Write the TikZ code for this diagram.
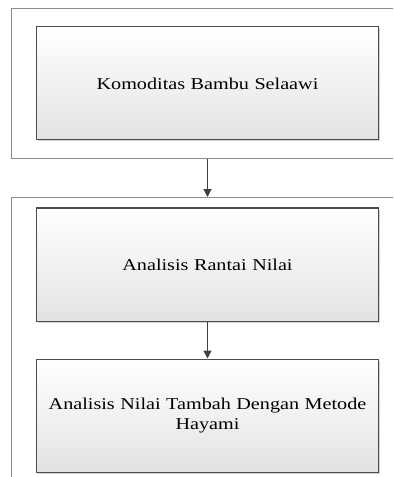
\documentclass[tikz,border=0pt]{standalone}
\usepackage{fontspec}
\setmainfont{Liberation Serif}
\newfontfamily\boxfont[FakeStretch=1.22]{Liberation Serif}
\usetikzlibrary{positioning,shadows,arrows.meta}

\begin{document}
\begin{tikzpicture}[x=1bp,y=1bp,>={Triangle[length=8bp,width=8bp]},
                    node distance=37bp,semithick]
  \tikzstyle{frame}=[rectangle,draw=black!45,line width=1.3bp,anchor=north west,
                     inner sep=0pt,minimum width=400bp]
  \tikzstyle{stage}=[rectangle,draw=black!70,line width=1bp,top color=white,
                     bottom color=black!11,minimum width=342bp,minimum height=113bp,
                     inner xsep=1bp,text width=338bp,align=center,
                     font=\boxfont\fontsize{16.6}{20.5}\selectfont,
                     drop shadow={shadow xshift=1.5bp,shadow yshift=-1.5bp,opacity=0.35}]
  \tikzstyle{link}=[->,draw=black!75,line width=1.3bp]

  \useasboundingbox (0,0) rectangle (393,-477);
  \clip (0,0) rectangle (393,-477);

  % frames
  \node[frame,minimum height=150bp] (komFrame) at (11,-8) {};
  \node[frame,minimum height=300bp] (nilaiFrame) at (11,-197) {};

  % stages
  \node[stage] (kom) at (207.5,-83.5) {Komoditas Bambu Selaawi};
  \node[stage] (rantai) at (207.5,-264.5) {Analisis Rantai Nilai};
  \node[stage] (hayami) [below=of rantai] {Analisis Nilai Tambah Dengan Metode\\ Hayami};

  \draw[link] (kom |- komFrame.south) -- (kom |- nilaiFrame.north);
  \draw[link] (rantai) -- (hayami);
\end{tikzpicture}
\end{document}
